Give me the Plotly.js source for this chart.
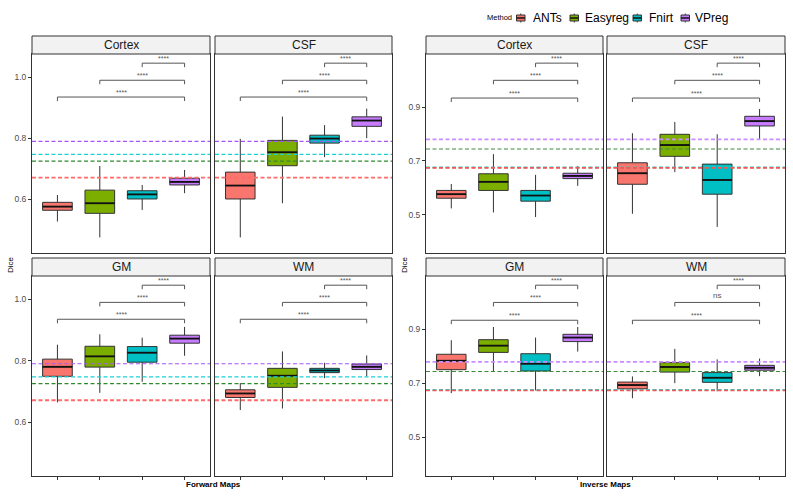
<!DOCTYPE html>
<html>
<head>
<meta charset="utf-8">
<script src="https://cdn.plot.ly/plotly-3.0.1.min.js"></script>
<style>html,body{margin:0;padding:0;background:#fff;}#chart{width:793px;height:496px;}</style>
</head>
<body>
<div id="chart"></div>
<script>
// ---------------- DATA ----------------
const methods = ['ANTs', 'Easyreg', 'Fnirt', 'VPreg'];
const regions = ['Cortex', 'CSF', 'GM', 'WM'];
const maps = ['Forward Maps', 'Inverse Maps'];

// Forward maps: per region [ANTs, Easyreg, Fnirt, VPreg]
const forwardLower  = [[0.527,0.475,0.565,0.620],[0.475,0.587,0.738,0.800],[0.664,0.695,0.731,0.816],[0.639,0.644,0.743,0.749]];
const forwardQ1     = [[0.564,0.554,0.601,0.647],[0.601,0.710,0.784,0.839],[0.749,0.779,0.795,0.857],[0.680,0.713,0.761,0.771]];
const forwardMedian = [[0.576,0.587,0.616,0.657],[0.645,0.754,0.799,0.858],[0.780,0.814,0.826,0.872],[0.693,0.751,0.768,0.780]];
const forwardQ3     = [[0.590,0.630,0.628,0.669],[0.689,0.793,0.810,0.870],[0.805,0.847,0.846,0.883],[0.705,0.775,0.775,0.789]];
const forwardUpper  = [[0.614,0.709,0.647,0.696],[0.798,0.871,0.843,0.897],[0.852,0.886,0.875,0.910],[0.727,0.830,0.793,0.817]];

// Inverse maps
const inverseLower  = [[0.523,0.508,0.491,0.607],[0.503,0.658,0.454,0.781],[0.664,0.746,0.674,0.818],[0.645,0.701,0.671,0.727]];
const inverseQ1     = [[0.561,0.590,0.550,0.634],[0.613,0.717,0.576,0.830],[0.751,0.815,0.746,0.855],[0.680,0.742,0.704,0.749]];
const inverseMedian = [[0.576,0.622,0.571,0.644],[0.654,0.759,0.629,0.848],[0.784,0.840,0.773,0.870],[0.694,0.761,0.721,0.758]];
const inverseQ3     = [[0.590,0.652,0.590,0.654],[0.693,0.799,0.688,0.866],[0.808,0.862,0.810,0.882],[0.705,0.777,0.740,0.767]];
const inverseUpper  = [[0.614,0.725,0.648,0.681],[0.803,0.845,0.799,0.893],[0.860,0.909,0.870,0.909],[0.726,0.828,0.789,0.792]];

// Reference (dashed) lines per method
const forwardRef = [0.671, 0.725, 0.747, 0.790];
const inverseRef = [0.674, 0.744, 0.676, 0.780];

// Significance comparisons
const comparisons = [[1, 4], [2, 4], [3, 4]];
const forwardBracketY = [0.935, 0.990, 1.046];
const inverseBracketY = [0.934, 1.000, 1.064];
const forwardSig = [['****','****','****'],['****','****','****'],['****','****','****'],['****','****','****']];
const inverseSig = [['****','****','****'],['****','****','****'],['****','****','****'],['****','ns','****']];

const forwardTicks = [0.6, 0.8, 1.0];
const inverseTicks = [0.5, 0.7, 0.9];

// ---------------- STYLE / LAYOUT ----------------
const W = 793, H = 496;
const FONT = 'Liberation Sans, Arial, Helvetica, sans-serif';
const fillColors = ['#F8766D', '#7CAE00', '#00BFC4', '#C77CFF'];
const refColorsF = ['#FF6A6A', '#2E8B2E', '#1AD1D6', '#A855F7'];
const refColorsI = ['#F25555', '#3C8A3C', '#40C8C0', '#CC8CFF'];
const refWidthF = [1.8, 1.1, 1.2, 1.2];
const refWidthI = [1.6, 1.1, 1.6, 1.8];

const cols = [[32, 210], [215, 392], [426, 603], [607, 785]];
const rows = [[54, 253], [276, 476]];
const strips = [[36, 54], [258, 276]];
const fx = p => p / W;
const fy = p => 1 - p / H;

const data = [];
const layout = {
  width: W, height: H,
  margin: {l: 0, r: 0, t: 0, b: 0},
  paper_bgcolor: '#fff', plot_bgcolor: '#fff',
  showlegend: false,
  font: {family: FONT, color: '#1A1A1A'},
  shapes: [], annotations: []
};

for (let m = 0; m < 2; m++) {
  const lower = m ? inverseLower : forwardLower;
  const q1 = m ? inverseQ1 : forwardQ1;
  const med = m ? inverseMedian : forwardMedian;
  const q3 = m ? inverseQ3 : forwardQ3;
  const upper = m ? inverseUpper : forwardUpper;
  const refs = m ? inverseRef : forwardRef;
  const refC = m ? refColorsI : refColorsF;
  const refWd = m ? refWidthI : refWidthF;
  const bY = m ? inverseBracketY : forwardBracketY;
  const sig = m ? inverseSig : forwardSig;
  const ticks = m ? inverseTicks : forwardTicks;
  const yr = m ? [0.357, 1.098] : [0.424, 1.076];

  for (let r = 0; r < 4; r++) {
    const i = m * 4 + r + 1;
    const col = cols[m * 2 + (r % 2)];
    const rowI = Math.floor(r / 2);
    const row = rows[rowI];
    const st = strips[rowI];
    const xa = 'x' + (i === 1 ? '' : i), ya = 'y' + (i === 1 ? '' : i);
    const xk = 'xaxis' + (i === 1 ? '' : i), yk = 'yaxis' + (i === 1 ? '' : i);

    layout[xk] = {
      domain: [fx(col[0]), fx(col[1])], range: [0.4, 4.6], anchor: ya,
      showgrid: false, zeroline: false, showline: true, mirror: true,
      linecolor: '#333333', linewidth: 1,
      ticks: rowI === 1 ? 'outside' : '', ticklen: 3, tickcolor: '#333333', tickwidth: 1,
      tickvals: [1, 2, 3, 4], showticklabels: false, fixedrange: true
    };
    layout[yk] = {
      domain: [fy(row[1]), fy(row[0])], range: yr, anchor: xa,
      showgrid: false, zeroline: false, showline: true, mirror: true,
      linecolor: '#333333', linewidth: 1,
      ticks: (r % 2 === 0) ? 'outside' : '', ticklen: 3, tickcolor: '#333333', tickwidth: 1,
      tickvals: ticks, tickformat: '.1f', showticklabels: (r % 2 === 0),
      tickfont: {size: 8.5, color: '#4D4D4D', family: FONT}, fixedrange: true
    };

    // boxes
    for (let j = 0; j < 4; j++) {
      data.push({
        type: 'box', xaxis: xa, yaxis: ya, x: [j + 1],
        lowerfence: [lower[r][j]], q1: [q1[r][j]], median: [med[r][j]],
        q3: [q3[r][j]], upperfence: [upper[r][j]],
        fillcolor: fillColors[j], line: {color: '#333333', width: 1},
        width: 0.7, whiskerwidth: 0, boxpoints: false,
        hoverinfo: 'skip', showlegend: false, name: methods[j]
      });
    }
    // median emphasis
    const mx = [], my = [];
    for (let j = 0; j < 4; j++) {
      mx.push(j + 1 - 0.35, j + 1 + 0.35, null);
      my.push(med[r][j], med[r][j], null);
    }
    data.push({type: 'scatter', mode: 'lines', xaxis: xa, yaxis: ya, x: mx, y: my,
      line: {color: '#111111', width: 1.8}, hoverinfo: 'skip', showlegend: false});

    // brackets
    const tick = (yr[1] - yr[0]) * 0.02;
    const bx = [], by = [];
    comparisons.forEach((c, k) => {
      bx.push(c[0], c[0], c[1], c[1], null);
      by.push(bY[k] - tick, bY[k], bY[k], bY[k] - tick, null);
      layout.annotations.push({
        xref: xa, yref: ya, x: (c[0] + c[1]) / 2, y: bY[k],
        text: sig[r][k], showarrow: false, yanchor: 'bottom', yshift: sig[r][k] === 'ns' ? 0 : -1,
        font: {size: sig[r][k] === 'ns' ? 8 : 7, color: '#555555', family: FONT}
      });
    });
    data.push({type: 'scatter', mode: 'lines', xaxis: xa, yaxis: ya, x: bx, y: by,
      line: {color: '#555555', width: 1}, hoverinfo: 'skip', showlegend: false});

    // dashed reference lines
    const order = m ? [1, 2, 0, 3] : [0, 1, 2, 3];
    order.forEach(j => {
      layout.shapes.push({
        type: 'line', xref: xa + ' domain', yref: ya, x0: 0, x1: 1,
        y0: refs[j], y1: refs[j], layer: 'above',
        line: {color: refC[j], width: refWd[j], dash: '4px,2.5px'}
      });
    });

    // strip
    layout.shapes.push({
      type: 'rect', xref: 'paper', yref: 'paper',
      x0: fx(col[0]), x1: fx(col[1]), y0: fy(st[1]), y1: fy(st[0]),
      fillcolor: '#F2F2F2', line: {color: '#333333', width: 1}
    });
    layout.annotations.push({
      xref: 'paper', yref: 'paper', x: fx((col[0] + col[1]) / 2), y: fy((st[0] + st[1]) / 2),
      text: regions[r], showarrow: false, xanchor: 'center', yanchor: 'middle',
      font: {size: 12, color: '#1A1A1A', family: FONT}
    });
  }
}

// axis titles
[[213, maps[0]], [605, maps[1]]].forEach(a => {
  layout.annotations.push({xref: 'paper', yref: 'paper', x: fx(a[0]), y: fy(484),
    text: '<b>' + a[1] + '</b>', showarrow: false, xanchor: 'center', yanchor: 'middle',
    font: {size: 8, color: '#000', family: FONT}});
});
[10, 404].forEach(px => {
  layout.annotations.push({xref: 'paper', yref: 'paper', x: fx(px), y: fy(265),
    text: 'Dice', textangle: -90, showarrow: false, xanchor: 'center', yanchor: 'middle',
    font: {size: 8, color: '#000', family: FONT}});
});

// legend
layout.annotations.push({xref: 'paper', yref: 'paper', x: fx(485), y: fy(18),
  text: 'Method', showarrow: false, xanchor: 'left', yanchor: 'middle',
  font: {size: 7.5, color: '#000', family: FONT}});
const keyX = [516.5, 570, 633, 681];
const labX = [531, 583, 647, 693];
methods.forEach((name, j) => {
  const x0 = keyX[j], x1 = keyX[j] + 8.5, xc = (x0 + x1) / 2;
  layout.shapes.push({type: 'line', xref: 'paper', yref: 'paper', x0: fx(xc), x1: fx(xc), y0: fy(13.5), y1: fy(22.5),
    line: {color: '#333', width: 1}});
  layout.shapes.push({type: 'rect', xref: 'paper', yref: 'paper', x0: fx(x0), x1: fx(x1), y0: fy(21), y1: fy(15),
    fillcolor: fillColors[j], line: {color: '#333', width: 1}});
  layout.shapes.push({type: 'line', xref: 'paper', yref: 'paper', x0: fx(x0), x1: fx(x1), y0: fy(18), y1: fy(18),
    line: {color: '#111', width: 1.5}});
  layout.annotations.push({xref: 'paper', yref: 'paper', x: fx(labX[j]), y: fy(18),
    text: name, showarrow: false, xanchor: 'left', yanchor: 'middle',
    font: {size: 12, color: '#000', family: FONT}});
});

Plotly.newPlot('chart', data, layout, {staticPlot: true, displayModeBar: false});
</script>
</body>
</html>
